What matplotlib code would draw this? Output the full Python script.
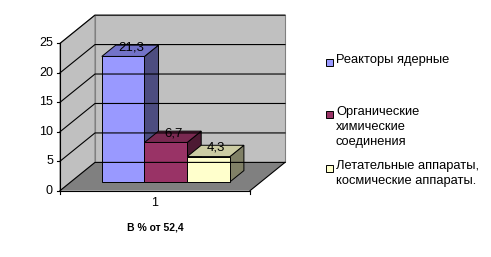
import matplotlib
matplotlib.use('Agg')
import matplotlib.pyplot as plt
from matplotlib.patches import Polygon, Rectangle

# data
series = ['Реакторы ядерные',
          'Органические\nхимические\nсоединения',
          'Летательные аппараты,\nкосмические аппараты.']
values = [21.3, 6.7, 4.3]
value_labels = ['21,3', '6,7', '4,3']
category = '1'
axis_title = 'В % от 52,4'
yticks = [0, 5, 10, 15, 20, 25]

face_colors = ['#9999FF', '#993366', '#FFFFCC']
top_colors = ['#7373C8', '#7A2951', '#CCCCA3']
side_colors = ['#4D4D80', '#4D1A33', '#808066']

plt.rcParams['font.family'] = ['Liberation Sans', 'DejaVu Sans']

# frame geometry (pixels)
X0, X1 = 60, 250          # front plane x range
Y0 = 190.7                # front plane y of value 0
KY = 147.3 / 25           # pixels per unit
DX, DY = 35, -28.3        # depth offset
BAR_W = 42.7
D0, D1 = 0.31, 0.71       # bar depth range


def proj(x, v, d):
    return (x + DX * d, Y0 - v * KY + DY * d)


fig = plt.figure(figsize=(4.91, 2.57), dpi=100)
ax = fig.add_axes([0, 0, 1, 1])
ax.set_xlim(0, 491)
ax.set_ylim(257, 0)
ax.axis('off')

vmax = yticks[-1]
# walls and floor
back = [proj(X0, 0, 1), proj(X1, 0, 1), proj(X1, vmax, 1), proj(X0, vmax, 1)]
ax.add_patch(Polygon(back, closed=True, fc='#C0C0C0', ec='#808080', lw=0.8))
side = [proj(X0, 0, 0), proj(X0, 0, 1), proj(X0, vmax, 1), proj(X0, vmax, 0)]
ax.add_patch(Polygon(side, closed=True, fc='#C0C0C0', ec='#808080', lw=0.8))
floor = [proj(X0, 0, 0), proj(X1, 0, 0), proj(X1, 0, 1), proj(X0, 0, 1)]
ax.add_patch(Polygon(floor, closed=True, fc='#808080', ec='none'))

# gridlines
for t in yticks:
    a, b, c = proj(X0, t, 0), proj(X0, t, 1), proj(X1, t, 1)
    ax.plot([a[0], b[0], c[0]], [a[1], b[1], c[1]], color='black', lw=0.8)
fr, br = proj(X1, 0, 0), proj(X1, 0, 1)
ax.plot([fr[0], br[0]], [fr[1], br[1]], color='black', lw=0.8)

# axes
ax.plot([X0, X0], [Y0, Y0 - vmax * KY], color='black', lw=0.8)
ax.plot([X0, X1], [Y0, Y0], color='black', lw=0.8)
for t in yticks:
    y = Y0 - t * KY
    ax.plot([X0 - 3, X0], [y, y], color='black', lw=0.8)
    ax.text(X0 - 7, y, str(t), ha='right', va='center', fontsize=9)
for x in (X0, X1):
    ax.plot([x, x], [Y0, Y0 + 3], color='black', lw=0.8)

# bars
center = (X0 + X1) / 2
n = len(values)
for i, v in enumerate(values):
    l = center + (i - n / 2) * BAR_W
    r = l + BAR_W
    front = [proj(l, 0, D0), proj(r, 0, D0), proj(r, v, D0), proj(l, v, D0)]
    top = [proj(l, v, D0), proj(r, v, D0), proj(r, v, D1), proj(l, v, D1)]
    rside = [proj(r, 0, D0), proj(r, 0, D1), proj(r, v, D1), proj(r, v, D0)]
    ax.add_patch(Polygon(rside, closed=True, fc=side_colors[i], ec='black', lw=0.7))
    ax.add_patch(Polygon(front, closed=True, fc=face_colors[i], ec='black', lw=0.7))
    ax.add_patch(Polygon(top, closed=True, fc=top_colors[i], ec='black', lw=0.7))
    lx, ly = proj((l + r) / 2, v, 0.5)
    ax.text(lx + 1, ly - 4, value_labels[i], ha='center', va='center', fontsize=9.5)

ax.text(center, 203, category, ha='center', va='center', fontsize=9)
ax.text(center, 228, axis_title, ha='center', va='center', fontsize=7.5,
        fontweight='bold')

# legend
leg_y = [62, 114, 168]
for i, name in enumerate(series):
    ax.add_patch(Rectangle((326, leg_y[i] - 3.5), 7, 7, fc=face_colors[i],
                           ec='black', lw=0.7))
    ax.text(336, leg_y[i] - 7.5, name, ha='left', va='top', fontsize=9.3,
            linespacing=1.3)

fig.savefig('out.png', dpi=100)
